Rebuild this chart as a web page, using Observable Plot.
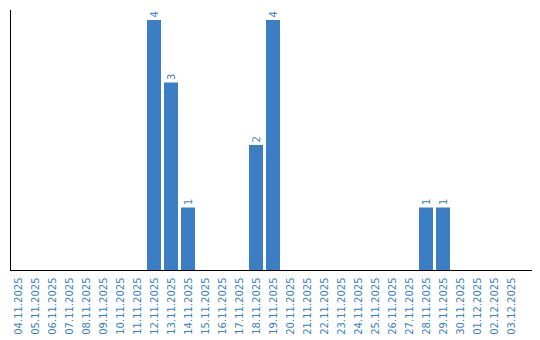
<!DOCTYPE html>
<html>
<head>
<meta charset="utf-8">
<script src="https://cdn.jsdelivr.net/npm/d3@7"></script>
<script src="https://cdn.jsdelivr.net/npm/@observablehq/plot@0.6"></script>
<style>
  html, body { margin: 0; padding: 0; background: #fff; }
  #chart svg { display: block; }
</style>
</head>
<body>
<div id="chart"></div>
<script>
const dates = [
  "04.11.2025","05.11.2025","06.11.2025","07.11.2025","08.11.2025","09.11.2025",
  "10.11.2025","11.11.2025","12.11.2025","13.11.2025","14.11.2025","15.11.2025",
  "16.11.2025","17.11.2025","18.11.2025","19.11.2025","20.11.2025","21.11.2025",
  "22.11.2025","23.11.2025","24.11.2025","25.11.2025","26.11.2025","27.11.2025",
  "28.11.2025","29.11.2025","30.11.2025","01.12.2025","02.12.2025","03.12.2025"
];
const values = [0,0,0,0,0,0,0,0,4,3,1,0,0,0,2,4,0,0,0,0,0,0,0,0,1,1,0,0,0,0];

const barColor = "#3b7ec3";
const textColor = "#3a7fc6";

const data = dates.map((d, i) => ({date: d, value: values[i]}));
const nonZero = data.filter(d => d.value > 0);

const chart = Plot.plot({
  width: 540,
  height: 340,
  marginTop: 10,
  marginBottom: 70,
  marginLeft: 10,
  marginRight: 9,
  style: {fontFamily: "DejaVu Sans", fontSize: "10px", background: "#fff"},
  x: {type: "band", domain: dates, range: [8.5, 520.5], paddingInner: 0.18, paddingOuter: 0.09, axis: null},
  y: {domain: [0, 4], range: [270, 20], axis: null},
  marks: [
    Plot.barY(nonZero, {x: "date", y: "value", fill: barColor}),
    Plot.text(nonZero, {x: "date", y: "value", text: d => String(d.value), rotate: -90,
      textAnchor: "start", lineAnchor: "middle", dy: -3, fill: textColor, fontSize: 10}),
    Plot.text(dates, {x: d => d, text: d => d, frameAnchor: "bottom", dy: 7, rotate: -90,
      textAnchor: "end", lineAnchor: "middle", fill: textColor, fontSize: 10}),
    Plot.frame({anchor: "left", stroke: "#000"}),
    Plot.frame({anchor: "bottom", stroke: "#000"})
  ]
});
document.getElementById("chart").appendChild(chart);
</script>
</body>
</html>
